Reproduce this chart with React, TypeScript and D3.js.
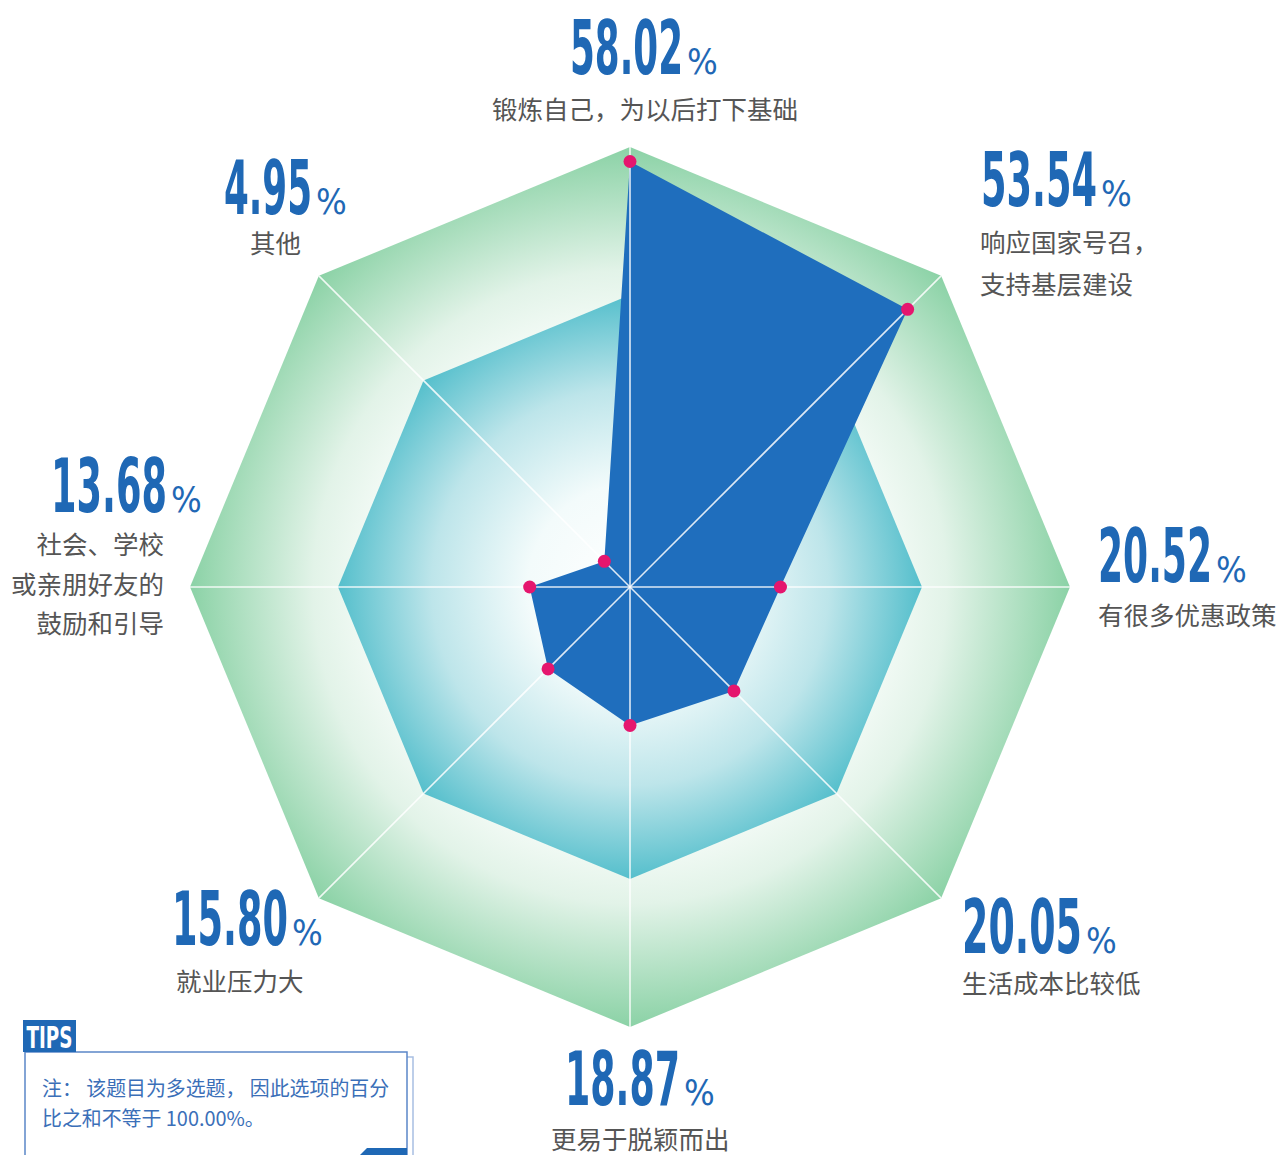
import React from "react";
import * as d3 from "d3";

const categories = [
  "锻炼自己，为以后打下基础",
  "响应国家号召，支持基层建设",
  "有很多优惠政策",
  "生活成本比较低",
  "更易于脱颖而出",
  "就业压力大",
  "社会、学校或亲朋好友的鼓励和引导",
  "其他",
];
const values = [58.02, 53.54, 20.52, 20.05, 18.87, 15.8, 13.68, 4.95];
const valueLabels = ["58.02", "53.54", "20.52", "20.05", "18.87", "15.80", "13.68", "4.95"];
const labelLines = [
  ["锻炼自己，为以后打下基础"],
  ["响应国家号召，", "支持基层建设"],
  ["有很多优惠政策"],
  ["生活成本比较低"],
  ["更易于脱颖而出"],
  ["就业压力大"],
  ["社会、学校", "或亲朋好友的", "鼓励和引导"],
  ["其他"],
];
const tipsLines = ["注： 该题目为多选题， 因此选项的百分", "比之和不等于 100.00%。"];

// layout (positions of annotations)
const layout = [
  { nx: 570, nw: 113, ny: 74, lx: 645, anchor: "middle", ly: [119] },
  { nx: 981, nw: 116, ny: 206, lx: 980, anchor: "start", ly: [252, 294] },
  { nx: 1098, nw: 114, ny: 582, lx: 1098, anchor: "start", ly: [625] },
  { nx: 962, nw: 120, ny: 953, lx: 962, anchor: "start", ly: [993] },
  { nx: 565, nw: 115, ny: 1105, lx: 551, anchor: "start", ly: [1149] },
  { nx: 172, nw: 116, ny: 945, lx: 176, anchor: "start", ly: [991] },
  { nx: 51, nw: 116, ny: 512, lx: 164, anchor: "end", ly: [554, 594, 633] },
  { nx: 224, nw: 88, ny: 214, lx: 250, anchor: "start", ly: [253] },
];

const W = 1281;
const H = 1155;
const cx = 630;
const cy = 587;
const R = 440;
const innerR = 292;
const MAXV = 60;

const numFont = "'Liberation Sans Narrow','DejaVu Sans Condensed',Roboto,sans-serif";
const cjkFont = "'Noto Sans CJK SC','Noto Sans',sans-serif";

export default function App() {
  const n = categories.length;
  const rScale = d3.scaleLinear().domain([0, MAXV]).range([0, R]);
  const angle = d3.scaleLinear().domain([0, n]).range([0, 2 * Math.PI]);
  const pt = (i: number, r: number): [number, number] => [
    cx + r * Math.sin(angle(i)),
    cy - r * Math.cos(angle(i)),
  ];
  const closed = d3.line<[number, number]>().curve(d3.curveLinearClosed);
  const octa = (r: number) => closed(d3.range(n).map((i) => pt(i, r))) as string;
  const dataPts = values.map((v, i) => pt(i, rScale(v)));

  return (
    <svg width={W} height={H} viewBox={`0 0 ${W} ${H}`} style={{ display: "block", position: "absolute", left: 0, top: 0, background: "#fff" }}>
      <defs>
        <radialGradient id="outerG" gradientUnits="userSpaceOnUse" cx={cx} cy={cy} r={R}>
          <stop offset="0.6" stopColor="#f2faf5" />
          <stop offset="0.72" stopColor="#e2f3e8" />
          <stop offset="1" stopColor="#8bd2a6" />
        </radialGradient>
        <radialGradient id="innerG" gradientUnits="userSpaceOnUse" cx={cx} cy={cy} r={innerR}>
          <stop offset="0" stopColor="#ffffff" />
          <stop offset="0.35" stopColor="#f3fbfb" />
          <stop offset="0.68" stopColor="#bde5ea" />
          <stop offset="1" stopColor="#55bfcc" />
        </radialGradient>
      </defs>

      <path d={octa(R)} fill="url(#outerG)" />
      <path d={octa(innerR)} fill="url(#innerG)" />

      <path d={closed(dataPts) as string} fill="#1f6ebd" />

      {d3.range(n).map((i) => {
        const [x, y] = pt(i, R);
        return <line key={"s" + i} x1={cx} y1={cy} x2={x} y2={y} stroke="#ffffff" strokeOpacity={0.85} strokeWidth={1.6} />;
      })}

      {dataPts.map(([x, y], i) => (
        <circle key={"c" + i} cx={x} cy={y} r={6.5} fill="#e5166e" />
      ))}

      {values.map((v, i) => {
        const L = layout[i];
        return (
          <g key={"lab" + i}>
            <text x={L.nx} y={L.ny} fontFamily={numFont} fontWeight="bold" fontSize={74} fill="#1f68b5" textLength={L.nw} lengthAdjust="spacingAndGlyphs">
              {valueLabels[i]}
            </text>
            <text x={L.nx + L.nw + 4} y={L.ny} fontFamily={numFont} fontSize={36} fill="#1f68b5">
              %
            </text>
            {labelLines[i].map((line, j) => (
              <text key={j} x={L.lx} y={L.ly[j]} textAnchor={L.anchor as any} fontFamily={cjkFont} fontSize={25.5} fill="#555555">
                {line}
              </text>
            ))}
          </g>
        );
      })}

      {/* TIPS box */}
      <g>
        <path d="M407,1057 L413,1057 L413,1155" fill="none" stroke="#a8bfe2" strokeWidth={1.5} />
        <rect x={25} y={1052} width={382} height={110} fill="#ffffff" stroke="#5b86c8" strokeWidth={1.5} />
        <rect x={23} y={1020} width={53} height={32} fill="#1f68b5" />
        <text x={49.5} y={1048} textAnchor="middle" fontFamily={numFont} fontWeight="bold" fontSize={31} fill="#ffffff" textLength={46} lengthAdjust="spacingAndGlyphs">
          TIPS
        </text>
        <path d="M367,1148 L407,1148 L407,1155 L360,1155 Z" fill="#1f68b5" />
        {tipsLines.map((t, i) => (
          <text key={i} x={42} y={1096 + i * 30} fontFamily={cjkFont} fontSize={19.9} fill="#3b6fb8">
            {t}
          </text>
        ))}
      </g>
    </svg>
  );
}
